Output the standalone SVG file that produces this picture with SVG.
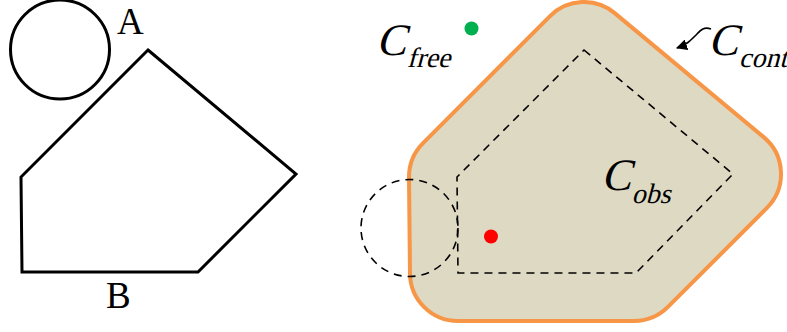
<svg xmlns="http://www.w3.org/2000/svg" width="787" height="332" viewBox="0 0 787 332">
<style>
.blk{fill:none;stroke:#000;stroke-width:3;stroke-linejoin:miter}
.dash{fill:none;stroke:#000;stroke-width:1.6;stroke-dasharray:8,6}
.lbl{font-family:"Liberation Serif",serif;fill:#000}
.it{font-family:"Liberation Serif",serif;fill:#000}
</style>
<defs>
<marker id="ah" viewBox="0 0 10 10" refX="9" refY="5" markerWidth="7" markerHeight="7" orient="auto" markerUnits="strokeWidth">
<path d="M0,0 L10,5 L0,10 Z" fill="#000"/>
</marker>
</defs>
<g id="robot-A">
<circle class="blk" cx="60" cy="49.5" r="49.5"/>
<text class="lbl" x="117" y="34" font-size="37">A</text>
</g>
<g id="obstacle-B">
<polygon class="blk" points="148,50 296,174 198,272 22,272 21,177"/>
<text class="lbl" x="106" y="308" font-size="37">B</text>
</g>
<g id="c-obs">
<path d="M614.71,13.11 L763.71,137.11 A48,48 0 0 1 766.94,207.94 L667.94,306.94 A48,48 0 0 1 634,321 L458,321 A48,48 0 0 1 410,273.5 L409,177.5 A48,48 0 0 1 423.06,143.06 L550.06,16.06 A48,48 0 0 1 614.71,13.11 Z" fill="#DDD9C3" stroke="#F79646" stroke-width="4"/>
<polygon class="dash" points="584,50 733,174 636,273 458,273 457,177"/>
<text class="it" transform="translate(601,190) skewX(-15)" font-size="45">C<tspan font-size="28" dx="4" dy="13">obs</tspan></text>
</g>
<g id="robot-ghost">
<circle class="dash" cx="409.5" cy="228" r="48.5"/>
</g>
<g id="q-free">
<circle cx="471.5" cy="28.5" r="7" fill="#00B050"/>
</g>
<g id="q-obs">
<circle cx="491" cy="236.5" r="7" fill="#FF0000"/>
</g>
<g id="c-free-label">
<text class="it" transform="translate(376,55) skewX(-15)" font-size="45">C<tspan font-size="28" dx="4" dy="12">free</tspan></text>
</g>
<g id="c-cont-label">
<text class="it" transform="translate(708,55) skewX(-15)" font-size="45">C<tspan font-size="28" dx="4" dy="12">cont</tspan></text>
</g>
<g id="connectors">
<path d="M711,29 C703,26 700,31 695,36 S686,45 677,48" fill="none" stroke="#000" stroke-width="1.6" marker-end="url(#ah)"/>
</g>
</svg>
